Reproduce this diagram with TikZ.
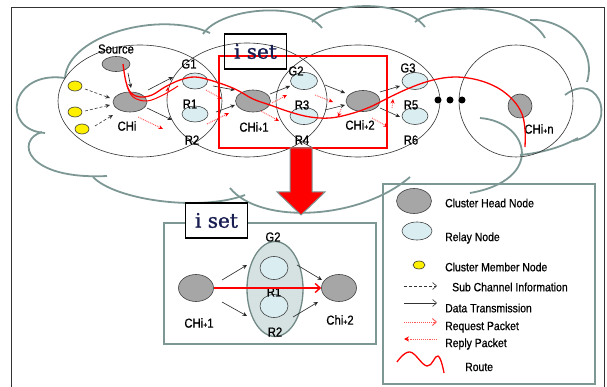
\documentclass[tikz,border=0pt]{standalone}
\usepackage{fontspec}
\setmainfont{Liberation Sans}[FakeStretch=0.87,FakeBold=0.6]
\newfontfamily\isetfont{DejaVu Serif}[FakeBold=1.2]
\usetikzlibrary{shapes.geometric,arrows.meta,calc}
\definecolor{cloudc}{RGB}{125,152,148}
\definecolor{chgray}{RGB}{166,166,166}
\definecolor{relc}{RGB}{218,238,242}
\definecolor{memc}{RGB}{255,240,0}
\definecolor{reqc}{RGB}{255,85,85}
\definecolor{navyc}{RGB}{25,30,80}
\definecolor{bigell}{RGB}{214,226,226}
\newcommand\smp{{\fontsize{8}{8}\selectfont+}}
\begin{document}
\begin{tikzpicture}[x=1pt,y=-1pt,
 cl/.style={draw=cloudc, line width=1.8pt},
 clus/.style={ellipse, draw=black!80, line width=0.6pt, inner sep=0pt},
 chn/.style={ellipse, draw=black!75, fill=chgray, line width=0.6pt, inner sep=0pt},
 rel/.style={ellipse, draw=black!75, fill=relc, line width=0.6pt, inner sep=0pt},
 mem/.style={ellipse, draw=black!80, fill=memc, line width=0.6pt, inner sep=0pt, minimum width=14pt, minimum height=10pt},
 lbl/.style={font=\fontsize{13}{13}\selectfont, inner sep=0pt},
 lgt/.style={font=\fontsize{12}{12}\selectfont, inner sep=0pt, anchor=west},
 sub/.style={densely dashed, draw=black!80, line width=0.6pt, -{Stealth[length=4.5pt,width=4pt]}},
 dat/.style={draw=black!85, line width=0.6pt, -{Stealth[length=4.5pt,width=4pt]}},
 req/.style={draw=reqc, densely dotted, line width=0.9pt, -{Stealth[length=4.5pt,width=4pt,red]}},
 route/.style={draw=red, line width=1.3pt},
 isetbox/.style={draw=black, line width=1.1pt, minimum width=62pt, minimum height=35pt, inner sep=0pt, font=\isetfont\fontsize{20}{20}\selectfont, text=navyc},
 frameb/.style={draw=cloudc, line width=2.2pt}
]
\useasboundingbox (0,0) rectangle (607,387);
\fill[white] (0,0) rectangle (607,387);
% outer frame
\draw[black!80, line width=0.8pt] (11,387) -- (11,7) -- (604,7) -- (604,387);

% cloud
\draw[cl] (65,78) .. controls (68,35) and (160,10) .. (210,33);
\draw[cl] (203,34) .. controls (220,8) and (300,0) .. (322,28);
\draw[cl] (312,22) .. controls (335,0) and (405,0) .. (425,27);
\draw[cl] (415,22) .. controls (440,2) and (525,2) .. (545,38);
\draw[cl] (530,20) .. controls (560,18) and (598,45) .. (587,82);
\draw[cl] (565,95) .. controls (600,68) and (622,130) .. (573,141);
\draw[cl] (578,138) .. controls (560,148) and (540,153) .. (520,155);
\draw[cl] (480,118) .. controls (530,122) and (545,180) .. (470,193);
\draw[cl] (230,188) .. controls (260,225) and (360,220) .. (410,177);
\draw[cl] (93,177) .. controls (115,200) and (200,212) .. (245,195);
\draw[cl] (42,132) .. controls (15,140) and (25,180) .. (107,176);
\draw[cl] (65,78) .. controls (10,70) and (0,130) .. (45,133);

% cluster boundaries
\node[clus, minimum width=164pt, minimum height=112pt] (clA) at (140,101) {};
\node[clus, minimum width=160pt, minimum height=114pt] (clB) at (247,100) {};
\node[clus, minimum width=164pt, minimum height=112pt] (clC) at (358,101) {};
\node[clus, minimum width=114pt, minimum height=112pt] (clD) at (516,101) {};

% nodes cluster A
\node[mem] (y1) at (75,86) {};
\node[mem] (y2) at (75,112) {};
\node[mem] (y3) at (82,129) {};
\node[chn, minimum width=28pt, minimum height=15pt] (src) at (116,64) {};
\node[chn, minimum width=34pt, minimum height=20pt] (chi) at (130,102) {};
% cluster B
\node[rel, minimum width=25pt, minimum height=16pt] (g1) at (195,81) {};
\node[rel, minimum width=26pt, minimum height=16pt] (r1) at (195,114) {};
\node[chn, minimum width=35pt, minimum height=22pt] (chi1) at (253,101) {};
% cluster C
\node[rel, minimum width=27pt, minimum height=17pt] (g2) at (304,81) {};
\node[rel, minimum width=28pt, minimum height=17pt] (r3) at (304,116) {};
\node[chn, minimum width=34pt, minimum height=21pt] (chi2) at (363,101) {};
\node[rel, minimum width=26pt, minimum height=17pt] (g3) at (415,81) {};
\node[rel, minimum width=26pt, minimum height=17pt] (r5) at (415,116) {};
% cluster D
\node[circle, draw=black!75, fill=chgray, line width=0.6pt, minimum size=24pt, inner sep=0pt] (chin) at (520,106) {};
\node[circle, fill=black, minimum size=7pt, inner sep=0pt] (d1) at (438,100) {};
\node[circle, fill=black, minimum size=7pt, inner sep=0pt] (d2) at (450,100) {};
\node[circle, fill=black, minimum size=7pt, inner sep=0pt] (d3) at (462,100) {};

% labels
\node[lbl] (srcl) at (116,49) {Source};
\node[lbl] (chil) at (127,126) {CHi};
\node[lbl] (g1l) at (189,64) {G1};
\node[lbl] (r1l) at (190,104) {R1};
\node[lbl] (r2l) at (192,140) {R2};
\node[lbl] (chi1l) at (254,127) {CHi\smp1};
\node[lbl] (g2l) at (296,71) {G2};
\node[lbl] (r3l) at (302,105) {R3};
\node[lbl] (r4l) at (302,140) {R4};
\node[lbl] (chi2l) at (360,125) {CHi\smp2};
\node[lbl] (g3l) at (408,68) {G3};
\node[lbl] (r5l) at (411,105) {R5};
\node[lbl] (r6l) at (411,140) {R6};
\node[lbl] (chinl) at (539,129) {CHi\smp n};

% arrows cluster A
\draw[sub] ($(y1)+(10,3)$) -- ($(chi)+(-20,-4)$);
\draw[sub] ($(y2)+(10,-1)$) -- ($(chi)+(-20,3)$);
\draw[sub] ($(y3)+(13,-3)$) -- ($(chi)+(-17,13)$);
\draw[dat] ($(src)+(12,9)$) -- ($(chi)+(1,-14)$);
\draw[dat] ($(chi)+(18,-12)$) -- ($(g1)+(-22,-4)$);
\draw[dat] ($(chi)+(17,6)$) -- ($(r2l)+(-20,-20)$);
\draw[req] ($(chi)+(8,15)$) -- ($(r2l)+(-29,-11)$);
% cluster B -> CHi+1
\draw[dat] ($(g1)+(18,5)$) -- ($(chi1)+(-18,-11)$);
\draw[dat] ($(r1)+(21,-2)$) -- ($(chi1)+(-18,4)$);
\draw[req] ($(g1)+(11,9)$) -- ($(chi1)+(-31,-2)$);
\draw[req] ($(r1)+(12,10)$) -- ($(chi1)+(-24,12)$);
% CHi+1 -> G2/R3
\draw[dat] ($(chi1)+(17,-7)$) -- ($(g2)+(-14,5)$);
\draw[req] ($(chi1)+(19,2)$) -- ($(g2)+(-17,14)$);
\draw[req] ($(chi1)+(8,10)$) -- ($(r3)+(-25,5)$);
% G2/R3 -> CHi+2
\draw[dat] ($(g2)+(21,4)$) -- ($(chi2)+(-18,-8)$);
\draw[dat] ($(r3)+(21,-6)$) -- ($(chi2)+(-18,4)$);
\draw[req] ($(g2)+(11,14)$) -- ($(chi2)+(-30,1)$);
% CHi+2 -> G3/R5
\draw[dat] ($(chi2)+(17,-9)$) -- ($(g3)+(-15,5)$);
\draw[dat] ($(chi2)+(17,7)$) -- ($(r5)+(-15,1)$);
\draw[req] ($(chi2)+(9,17)$) -- ($(r5)+(-27,11)$);

% route
\draw[route] plot[smooth, tension=0.6] coordinates {(123,64) (126,82) (131,93) (140,97) (152,95) (165,87) (180,80) (195,77) (213,81) (235,89) (253,99) (270,105) (290,112) (310,117) (330,118) (350,114) (370,107) (392,96) (412,87) (433,80) (455,77) (478,80) (498,88) (513,100) (522,114) (525,130) (525,147)};
\draw[draw=red, line width=1pt] plot[smooth, tension=0.6] coordinates {(127,86) (133,97) (147,101) (163,95) (178,86)};
% reply arrowheads on route
\draw[req] ($(chi)+(37,-4)$) -- ($(g1)+(-27,6)$);
\draw[req] ($(r3)+(37,-7)$) -- ($(chi2)+(-25,16)$);
\draw[req] ($(chi2)+(29,7)$) -- ($(g3)+(-22,18)$);

% highlight rectangle and i set box
\draw[red, line width=2.2pt] (219,56) rectangle (387,148);
\node[isetbox] (iset1) at (255.5,51.5) {i set};

% block arrow
\draw[fill=red, draw=cloudc, line width=1pt] (290,148) -- (312,148) -- (312,192) -- (325,192) -- (301,215) -- (277,192) -- (290,192) -- cycle;

% lower box
\draw[frameb] (164,223) rectangle (376,344);
\node[isetbox, fill=white] (iset2) at (216.5,220.5) {i set};
\node[ellipse, draw=cloudc!90!black, fill=bigell, line width=1.3pt, minimum width=56pt, minimum height=95pt, inner sep=0pt] (big) at (275,289) {};
\node[rel, minimum width=28pt, minimum height=23pt] (lg) at (274,268) {};
\node[rel, minimum width=28pt, minimum height=23pt] (lr) at (274,306) {};
\node[chn, minimum width=35pt, minimum height=27pt] (lchi1) at (196,288) {};
\node[chn, minimum width=35pt, minimum height=27pt] (lchi2) at (339,288) {};
\node[lbl] (lgl) at (273,237) {G2};
\node[lbl] (lrl1) at (274,292) {R1};
\node[lbl] (lrl2) at (275,332) {R2};
\node[lbl] (lchi1l) at (199,323) {CHi\smp1};
\node[lbl] (lchi2l) at (340,320) {Chi\smp2};
\draw[dat] ($(lchi1)+(26,-8)$) -- ($(lg)+(-27,-3)$);
\draw[dat] ($(lchi1)+(26,14)$) -- ($(lr)+(-27,10)$);
\draw[dat] ($(lg)+(23,-3)$) -- ($(lchi2)+(-17,-8)$);
\draw[dat] ($(lr)+(19,11)$) -- ($(lchi2)+(-21,14)$);
\draw[draw=red, line width=1.4pt, -{Straight Barb[length=5pt,width=9pt]}] (lchi1.east) -- (lchi2.west);

% legend
\draw[frameb] (383,184) rectangle (595,384);
\node[chn, minimum width=35pt, minimum height=25pt] (lgch) at (414,201) {};
\node[rel, minimum width=30pt, minimum height=18pt] (lgrel) at (417,231) {};
\node[mem, minimum width=12pt, minimum height=8pt] (lgmem) at (419,265) {};
\node[lgt] (t1) at (445,203) {Cluster Head Node};
\node[lgt] (t2) at (445,238) {Relay Node};
\node[lgt] (t3) at (445,267) {Cluster Member Node};
\node[lgt] (t4) at (452,287) {Sub Channel Information};
\node[lgt] (t5) at (445,308) {Data Transmission};
\node[lgt] (t6) at (445,327) {Request Packet};
\node[lgt] (t7) at (445,344) {Reply Packet};
\node[lgt] (t8) at (465,367) {Route};
\coordinate (a1) at (404,286); \coordinate (b1) at (437,286);
\coordinate (a2) at (404,303); \coordinate (b2) at (437,303);
\coordinate (a3) at (404,322); \coordinate (b3) at (437,322);
\coordinate (a4) at (404,339); \coordinate (b4) at (437,339);
\draw[densely dashed, black!80, line width=0.6pt, -{Straight Barb[length=4pt,width=7pt]}] (a1) -- (b1);
\draw[black!80, line width=0.6pt, -{Straight Barb[length=4pt,width=7pt]}] (a2) -- (b2);
\draw[reqc, densely dotted, line width=0.9pt, -{Straight Barb[length=4pt,width=7pt]}] (a3) -- (b3);
\draw[reqc, densely dotted, line width=0.9pt, -{Stealth[length=5pt,width=5pt,red]}] (b4) -- (a4);
\draw[route] plot[smooth, tension=0.7] coordinates {(397,362) (410,352) (427,366) (438,356) (444,373)};
\end{tikzpicture}
\end{document}
